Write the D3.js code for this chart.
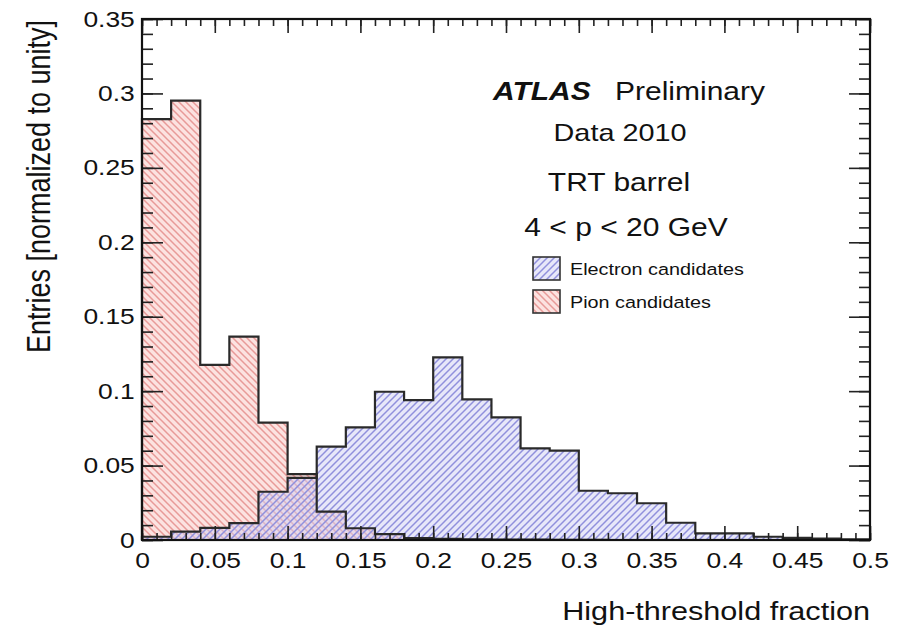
<!DOCTYPE html>
<html>
<head>
<meta charset="utf-8">
<script src="https://cdn.jsdelivr.net/npm/d3@7"></script>
<style>
  body { margin: 0; background: #fff; }
  text { font-family: "Liberation Sans", Arial, Helvetica, sans-serif; fill: #111; }
</style>
</head>
<body>
<div id="chart"></div>
<script>
// histogram contents, 25 bins of 0.02 from 0 to 0.5
var binEdges = d3.range(26).map(i => i * 0.02);
var electronValues = [0.0022, 0.0056, 0.0081, 0.0114, 0.0324, 0.0417, 0.0627, 0.0757, 0.0996, 0.0940,
                      0.1227, 0.0945, 0.0824, 0.0616, 0.0600, 0.0331, 0.0314, 0.0247, 0.0116, 0.0045,
                      0.0044, 0.0022, 0.0014, 0.0009, 0.0005];
var pionValues = [0.2828, 0.2951, 0.1176, 0.1366, 0.0788, 0.0443, 0.0190, 0.0079, 0.0040, 0.0013,
                  0.0008, 0.0005, 0.0003, 0.0002, 0.0001, 0.0001, 0, 0, 0, 0,
                  0, 0, 0, 0, 0];
var xTicks = [0, 0.05, 0.1, 0.15, 0.2, 0.25, 0.3, 0.35, 0.4, 0.45, 0.5];
var yTicks = [0, 0.05, 0.1, 0.15, 0.2, 0.25, 0.3, 0.35];
var legendLabels = ["Electron candidates", "Pion candidates"];
var infoLines = ["Data 2010", "TRT barrel", "4 < p < 20 GeV"];

var W = 904, H = 631;
var SX = 1.2; // the picture is stretched sideways, text too

var svg = d3.select("#chart").append("svg")
  .attr("width", W).attr("height", H);

var x = d3.scaleLinear().domain([0, 0.5]).range([142, 870]);
var y = d3.scaleLinear().domain([0, 0.35]).range([540, 19]);

// hatch patterns
var defs = svg.append("defs");
var pPion = defs.append("pattern").attr("id", "hatchPion")
  .attr("patternUnits", "userSpaceOnUse").attr("width", 7).attr("height", 7);
pPion.append("rect").attr("width", 7).attr("height", 7).attr("fill", "#fce2e0");
pPion.append("path").attr("d", "M0,0 L7,7 M-1,6 L1,8 M6,-1 L8,1")
  .attr("stroke", "#e89a98").attr("stroke-width", 1.5);

var pEl = defs.append("pattern").attr("id", "hatchElectron")
  .attr("patternUnits", "userSpaceOnUse").attr("width", 7).attr("height", 7);
pEl.append("rect").attr("width", 7).attr("height", 7).attr("fill", "#cfcff4").attr("fill-opacity", 0.5);
pEl.append("path").attr("d", "M0,7 L7,0 M-1,1 L1,-1 M6,8 L8,6")
  .attr("stroke", "#9090dc").attr("stroke-width", 1.5);

function stepPoints(values) {
  var pts = [[binEdges[0], 0]];
  values.forEach(function (v, i) {
    pts.push([binEdges[i], v]);
    pts.push([binEdges[i + 1], v]);
  });
  pts.push([binEdges[binEdges.length - 1], 0]);
  return pts;
}

var area = d3.area().x(d => x(d[0])).y0(y(0)).y1(d => y(d[1]));
var line = d3.line().x(d => x(d[0])).y(d => y(d[1]));

var hist = svg.append("g");
hist.append("path").datum(stepPoints(pionValues))
  .attr("d", area).attr("fill", "url(#hatchPion)");
hist.append("path").datum(stepPoints(electronValues))
  .attr("d", area).attr("fill", "url(#hatchElectron)");
hist.append("path").datum(stepPoints(pionValues))
  .attr("d", line).attr("fill", "none").attr("stroke", "#2a2a2a").attr("stroke-width", 2.2);
hist.append("path").datum(stepPoints(electronValues))
  .attr("d", line).attr("fill", "none").attr("stroke", "#2a2a2a").attr("stroke-width", 2.2);

// axes, ROOT style ticks pointing inside
var minorX = d3.range(51).map(i => i / 100);
var minorY = d3.range(36).map(i => i / 100);
var fmt = d => d === 0 ? "0" : d3.format(".2~f")(d);

function styleAxis(g) {
  g.select(".domain").remove();
  g.selectAll("line").attr("stroke", "#222").attr("stroke-width", 1.6);
}

svg.append("g").attr("transform", "translate(0,540)")
  .call(d3.axisBottom(x).tickValues(minorX).tickSize(-7).tickFormat("")).call(styleAxis);
svg.append("g").attr("transform", "translate(0,19)")
  .call(d3.axisTop(x).tickValues(minorX).tickSize(-7).tickFormat("")).call(styleAxis);
svg.append("g").attr("transform", "translate(0,19)")
  .call(d3.axisTop(x).tickValues(xTicks).tickSize(-14).tickFormat("")).call(styleAxis);
svg.append("g").attr("transform", "translate(142,0)")
  .call(d3.axisLeft(y).tickValues(minorY).tickSize(-11).tickFormat("")).call(styleAxis);
svg.append("g").attr("transform", "translate(870,0)")
  .call(d3.axisRight(y).tickValues(minorY).tickSize(-11).tickFormat("")).call(styleAxis);
svg.append("g").attr("transform", "translate(870,0)")
  .call(d3.axisRight(y).tickValues(yTicks).tickSize(-21).tickFormat("")).call(styleAxis);

var xAxis = svg.append("g").attr("transform", "translate(0,540)")
  .call(d3.axisBottom(x).tickValues(xTicks).tickSize(-14).tickPadding(12).tickFormat(fmt))
  .call(styleAxis);
xAxis.selectAll("text").style("font-size", "22px").attr("fill", "#111")
  .attr("transform", `scale(${SX},1)`);

var yAxis = svg.append("g").attr("transform", "translate(142,0)")
  .call(d3.axisLeft(y).tickValues(yTicks).tickSize(-21).tickPadding(6).tickFormat(fmt))
  .call(styleAxis);
yAxis.selectAll("text").style("font-size", "22px").attr("fill", "#111")
  .attr("transform", `scale(${SX},1)`);

// frame
svg.append("rect")
  .attr("x", x(0)).attr("y", y(0.35))
  .attr("width", x(0.5) - x(0)).attr("height", y(0) - y(0.35))
  .attr("fill", "none").attr("stroke", "#111").attr("stroke-width", 2.2);

function addText(px, py, str, size, anchor) {
  return svg.append("text")
    .attr("transform", `translate(${px},${py}) scale(${SX},1)`)
    .attr("text-anchor", anchor || "start")
    .style("font-size", size + "px")
    .text(str);
}

// axis titles
addText(870, 620, "High-threshold fraction", 25.5, "end");
svg.append("text")
  .attr("transform", `translate(50,20) scale(${SX},1) rotate(-90)`)
  .attr("text-anchor", "end")
  .style("font-size", "27px")
  .text("Entries [normalized to unity]");

// labels
addText(493, 100, "ATLAS", 25, "start")
  .style("font-weight", "bold").style("font-style", "italic");
addText(615, 100, "Preliminary", 25, "start");
addText(620, 141, infoLines[0], 24, "middle");
addText(619, 191, infoLines[1], 25, "middle");
addText(626, 236, infoLines[2], 25, "middle");

// legend
var legendFills = ["url(#hatchElectron)", "url(#hatchPion)"];
var legendTop = [257, 290];
legendLabels.forEach(function (lab, i) {
  if (i === 0) {
    svg.append("rect").attr("x", 533).attr("y", legendTop[i]).attr("width", 27).attr("height", 23)
      .attr("fill", "#fff");
  }
  svg.append("rect").attr("x", 533).attr("y", legendTop[i]).attr("width", 27).attr("height", 23)
    .attr("fill", legendFills[i]).attr("stroke", "#333").attr("stroke-width", 1.6);
  addText(570, legendTop[i] + 18, lab, 16.5, "start");
});
</script>
</body>
</html>
